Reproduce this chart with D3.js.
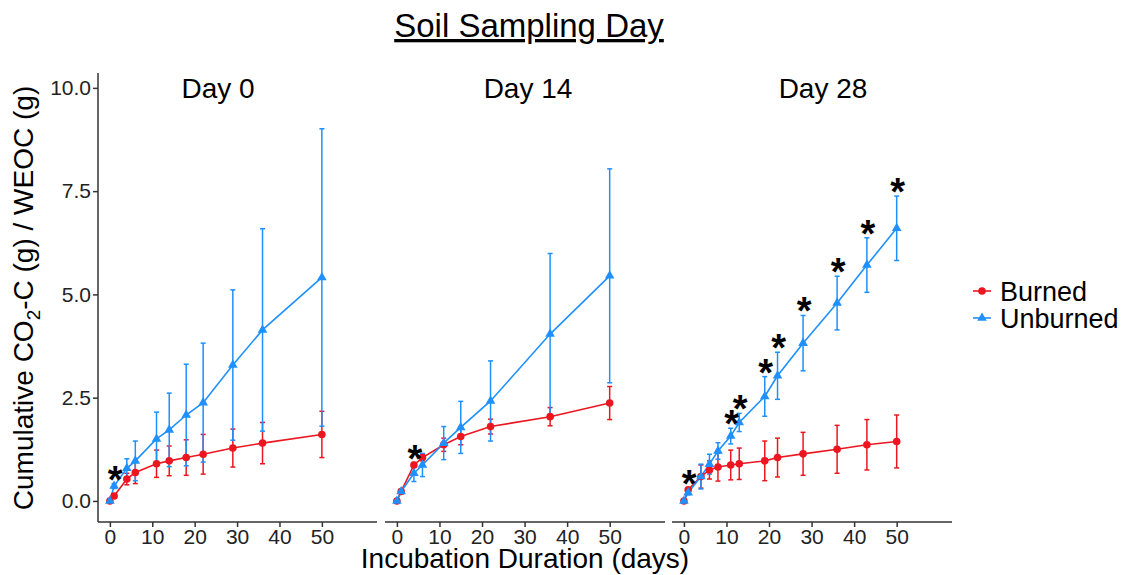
<!DOCTYPE html>
<html lang="en">
<head>
    <meta charset="UTF-8">
    <title>Soil Sampling Day</title>
    <script src="https://d3js.org/d3.v7.min.js"></script>
    <style>
        * {
            margin: 0;
            padding: 0;
            box-sizing: border-box;
        }

        body {
            background-color: #ffffff;
            font-family: "Liberation Sans", Arial, sans-serif;
            overflow: hidden;
        }

        .axis path,
        .axis line {
            stroke: #333333;
            stroke-width: 1.5px;
        }

        .axis text {
            font-family: "Liberation Sans", Arial, sans-serif;
            font-size: 21px;
            fill: #222222;
        }
    </style>
</head>
<body>
    <svg></svg>

    <script>
        // Daten
        const panels = ["Day 0", "Day 14", "Day 28"];
        const seriesNames = ["Burned", "Unburned"];
        const colors = ["#ec1620", "#1e90ff"];

        const days = [
            [0, 1, 4, 6, 11, 14, 18, 22, 29, 36, 50],
            [0, 1, 4, 6, 11, 15, 22, 36, 50],
            [0, 1, 4, 6, 8, 11, 13, 19, 22, 28, 36, 43, 50]
        ];

        const burned = [
            [0, 0.12, 0.53, 0.69, 0.90, 0.97, 1.05, 1.13, 1.28, 1.40, 1.61],
            [0, 0.23, 0.87, 1.05, 1.36, 1.56, 1.80, 2.04, 2.37],
            [0, 0.27, 0.59, 0.75, 0.82, 0.87, 0.90, 0.97, 1.05, 1.14, 1.25, 1.36, 1.44]
        ];
        const burnedErr = [
            [0.02, 0.04, 0.14, 0.27, 0.33, 0.36, 0.43, 0.48, 0.46, 0.50, 0.56],
            [0.02, 0.05, 0.06, 0.08, 0.16, 0.20, 0.18, 0.22, 0.40],
            [0.02, 0.05, 0.28, 0.22, 0.34, 0.36, 0.38, 0.48, 0.47, 0.52, 0.58, 0.61, 0.64]
        ];

        const unburned = [
            [0, 0.36, 0.79, 0.97, 1.50, 1.72, 2.08, 2.38, 3.29, 4.14, 5.41],
            [0, 0.23, 0.67, 0.87, 1.40, 1.78, 2.42, 4.04, 5.45],
            [0, 0.20, 0.59, 0.89, 1.21, 1.57, 1.90, 2.53, 3.03, 3.82, 4.79, 5.71, 6.60]
        ];
        const unburnedErr = [
            [0.02, 0.06, 0.23, 0.48, 0.65, 0.89, 1.23, 1.44, 1.82, 2.45, 3.60],
            [0.02, 0.04, 0.20, 0.28, 0.40, 0.63, 0.97, 1.95, 2.59],
            [0.02, 0.05, 0.30, 0.24, 0.20, 0.19, 0.22, 0.48, 0.57, 0.67, 0.65, 0.66, 0.78]
        ];

        // Signifikanz-Sterne (Tage)
        const stars = [[1], [4], [1, 11, 13, 19, 22, 28, 36, 43, 50]];

        const xTicks = [0, 10, 20, 30, 40, 50];
        const yTicks = [0, 2.5, 5, 7.5, 10];

        const width = 1125, height = 575;
        const svg = d3.select("svg").attr("width", width).attr("height", height);

        const panelX = [[98, 377], [385, 665], [672, 952]];
        const labelX = [218, 528, 823];
        const yTop = 73, yBottom = 522;

        const y = d3.scaleLinear().domain([-0.51, 10.36]).range([yBottom, yTop]);

        // Titel
        svg.append("text")
            .attr("x", 529).attr("y", 37)
            .attr("text-anchor", "middle")
            .style("font-size", "33px")
            .style("text-decoration", "underline")
            .style("fill", "#000")
            .text("Soil Sampling Day");

        panels.forEach((name, p) => {
            const x = d3.scaleLinear().domain([-2.8, 63]).range(panelX[p]);
            const g = svg.append("g");

            // Achsen
            g.append("g")
                .attr("class", "axis")
                .attr("transform", `translate(0,${yBottom})`)
                .call(d3.axisBottom(x).tickValues(xTicks).tickSize(5).tickSizeOuter(0).tickPadding(2))
                .call(a => a.select(".domain").attr("d", `M${panelX[p][0]},0H${panelX[p][1]}`));

            if (p === 0) {
                g.append("g")
                    .attr("class", "axis")
                    .attr("transform", `translate(${panelX[0][0]},0)`)
                    .call(d3.axisLeft(y).tickValues(yTicks).tickFormat(d3.format(".1f")).tickSize(5).tickSizeOuter(0).tickPadding(2))
                    .call(a => a.select(".domain").attr("d", `M0,${yTop}V${yBottom}`));
            }

            g.append("text")
                .attr("x", labelX[p]).attr("y", 98)
                .attr("text-anchor", "middle")
                .style("font-size", "28px")
                .text(name);

            const series = [
                days[p].map((d, i) => ({ day: d, v: burned[p][i], e: burnedErr[p][i] })),
                days[p].map((d, i) => ({ day: d, v: unburned[p][i], e: unburnedErr[p][i] }))
            ];

            // Fehlerbalken
            series.forEach((s, k) => {
                const eb = g.append("g").attr("stroke", colors[k]).attr("stroke-width", 1.5);
                s.forEach(d => {
                    const cx = x(d.day), y1 = y(d.v + d.e), y0 = y(d.v - d.e);
                    eb.append("line").attr("x1", cx).attr("x2", cx).attr("y1", y1).attr("y2", y0);
                    eb.append("line").attr("x1", cx - 2.5).attr("x2", cx + 2.5).attr("y1", y1).attr("y2", y1);
                    eb.append("line").attr("x1", cx - 2.5).attr("x2", cx + 2.5).attr("y1", y0).attr("y2", y0);
                });
            });

            // Linien
            const line = d3.line().x(d => x(d.day)).y(d => y(d.v));
            series.forEach((s, k) => {
                g.append("path").datum(s)
                    .attr("fill", "none")
                    .attr("stroke", colors[k])
                    .attr("stroke-width", 1.6)
                    .attr("d", line);
            });

            // Punkte
            g.append("g").selectAll("circle").data(series[0]).enter().append("circle")
                .attr("cx", d => x(d.day)).attr("cy", d => y(d.v))
                .attr("r", 3.8).attr("fill", colors[0]);
            g.append("g").selectAll("path").data(series[1]).enter().append("path")
                .attr("d", d3.symbol().type(d3.symbolTriangle).size(40))
                .attr("transform", d => `translate(${x(d.day)},${y(d.v)})`)
                .attr("fill", colors[1]);

            // Sterne
            const fs = 38;
            stars[p].forEach(day => {
                const i = days[p].indexOf(day);
                const topV = Math.max(burned[p][i] + burnedErr[p][i], unburned[p][i] + unburnedErr[p][i]);
                const cy = y(topV) - 10;
                g.append("text")
                    .attr("x", x(day) + 1)
                    .attr("y", cy + fs * 0.5)
                    .attr("text-anchor", "middle")
                    .style("font-size", fs + "px")
                    .style("font-weight", "bold")
                    .text("*");
            });
        });

        // Achsentitel
        svg.append("text")
            .attr("x", 525).attr("y", 568)
            .attr("text-anchor", "middle")
            .style("font-size", "28px")
            .text("Incubation Duration (days)");

        const yt = svg.append("text")
            .attr("transform", "translate(33,298) rotate(-90)")
            .attr("text-anchor", "middle")
            .style("font-size", "28px");
        yt.append("tspan").text("Cumulative CO");
        yt.append("tspan").attr("dy", 7).style("font-size", "19px").text("2");
        yt.append("tspan").attr("dy", -7).text("-C (g) / WEOC (g)");

        // Legende
        const leg = svg.append("g").attr("transform", "translate(973,291)");
        seriesNames.forEach((n, k) => {
            const r = leg.append("g").attr("transform", `translate(0,${k * 27})`);
            r.append("line").attr("x1", 0).attr("x2", 18).attr("stroke", colors[k]).attr("stroke-width", 1.6);
            if (k === 0) {
                r.append("circle").attr("cx", 9).attr("r", 3.8).attr("fill", colors[k]);
            } else {
                r.append("path").attr("d", d3.symbol().type(d3.symbolTriangle).size(40))
                    .attr("transform", "translate(9,0)").attr("fill", colors[k]);
            }
            r.append("text").attr("x", 27).attr("y", 10)
                .style("font-size", "27px")
                .text(n);
        });
    </script>
</body>
</html>
